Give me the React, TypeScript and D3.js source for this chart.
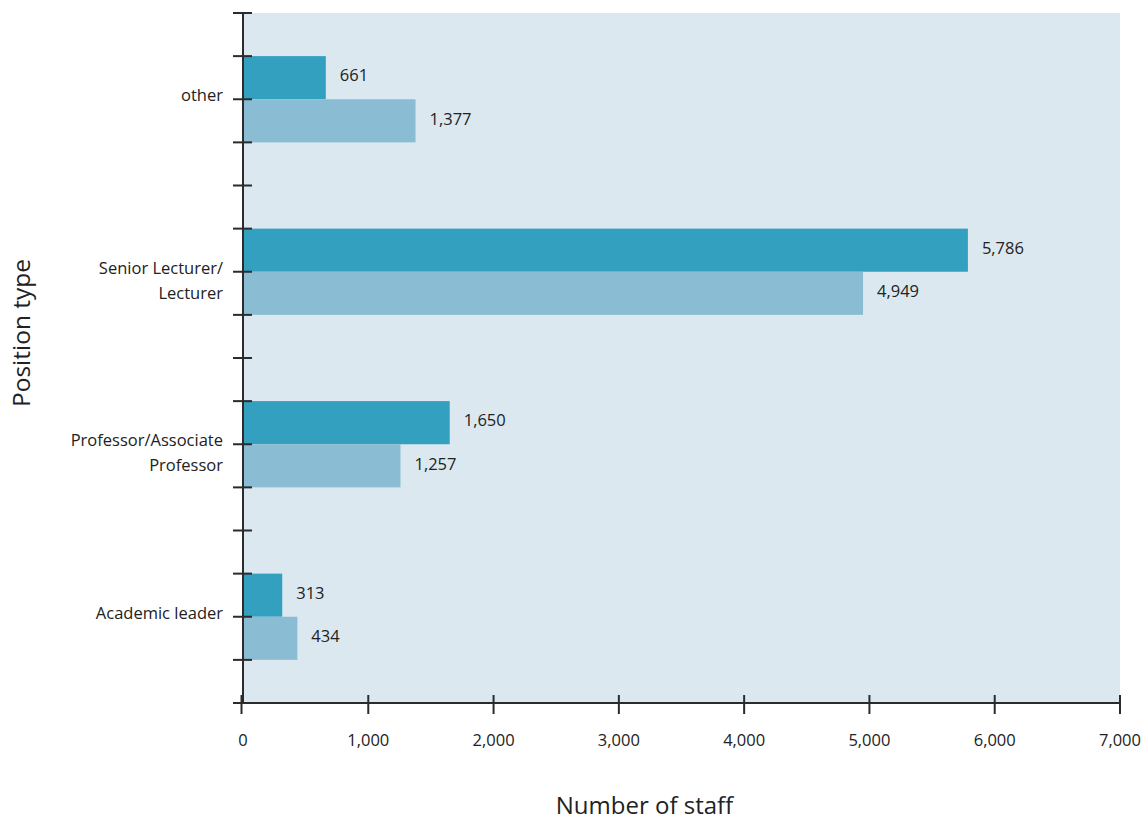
import React from "react";
import * as d3 from "d3";

const categories = ["other", "Senior Lecturer/\nLecturer", "Professor/Associate\nProfessor", "Academic leader"];
const seriesA = [661, 5786, 1650, 313];
const seriesB = [1377, 4949, 1257, 434];
const xTicks = [0, 1000, 2000, 3000, 4000, 5000, 6000, 7000];

const W = 1146, H = 823;
const left = 243, right = 1120, top = 13, bottom = 703;
const darkC = "#32a0be", lightC = "#8abdd3", bgC = "#dce8f0", axisC = "#2b2b2b";
const font = "'Open Sans', sans-serif";

export default function App() {
  const x = d3.scaleLinear().domain([0, 7000]).range([left, right]);
  const band = d3.scaleBand().domain(categories).range([top, bottom]).paddingInner(0).paddingOuter(0);
  const bw = band.bandwidth();
  const fmt = d3.format(",");
  const yTickPos = d3.range(17).map(i => top + (i * (bottom - top)) / 16);
  return (
    <svg width={W} height={H} style={{ position: "absolute", left: 0, top: 0 }} fontFamily={font}>
      <rect x={left} y={top} width={right - left} height={bottom - top} fill={bgC} />
      {categories.map((c, i) => {
        const y0 = band(c)!;
        const barH = bw / 4;
        return (
          <g key={c}>
            <rect x={x(0) - 1} y={y0 + bw / 4} width={x(seriesA[i]) - x(0) + 1} height={barH} fill={darkC} />
            <rect x={x(0) - 1} y={y0 + bw / 2} width={x(seriesB[i]) - x(0) + 1} height={barH} fill={lightC} />
            <text x={x(seriesA[i]) + 14} y={y0 + bw * 3 / 8 - 2} dy="0.35em" fontSize={16.5} fontWeight={500} fill="#222">{fmt(seriesA[i])}</text>
            <text x={x(seriesB[i]) + 14} y={y0 + bw * 5 / 8 - 2} dy="0.35em" fontSize={16.5} fontWeight={500} fill="#222">{fmt(seriesB[i])}</text>
            {(() => {
              const lines = c.split("\n");
              const cy = y0 + bw / 2;
              const start = cy - 4;
              return lines.map((l, k) => (
                <text key={k} x={223} y={start + k * 25} dy="0.35em" textAnchor="end" fontSize={16.5} fontWeight={500} fill="#222">{l}</text>
              ));
            })()}
          </g>
        );
      })}
      <line x1={left} x2={left} y1={top} y2={bottom} stroke={axisC} strokeWidth={2} />
      {yTickPos.map((y, i) => (
        <line key={i} x1={233} x2={252} y1={y} y2={y} stroke={axisC} strokeWidth={2} />
      ))}
      <line x1={left - 2} x2={right} y1={bottom} y2={bottom} stroke={axisC} strokeWidth={2} />
      {xTicks.map(t => (
        <g key={t}>
          <line x1={x(t) - (t === 0 ? 1.5 : 0)} x2={x(t) - (t === 0 ? 1.5 : 0)} y1={695} y2={714} stroke={axisC} strokeWidth={2} />
          <text x={x(t)} y={740} dy="0.35em" textAnchor="middle" fontSize={16.5} fontWeight={500} fill="#222">{fmt(t)}</text>
        </g>
      ))}
      <text x={(left + right) / 2 - 37} y={806} dy="0.35em" textAnchor="middle" fontSize={24} fontWeight={500} fill="#222">Number of staff</text>
      <text transform={`translate(21,${333}) rotate(-90)`} dy="0.35em" textAnchor="middle" fontSize={24.5} fontWeight={500} fill="#222">Position type</text>
    </svg>
  );
}
